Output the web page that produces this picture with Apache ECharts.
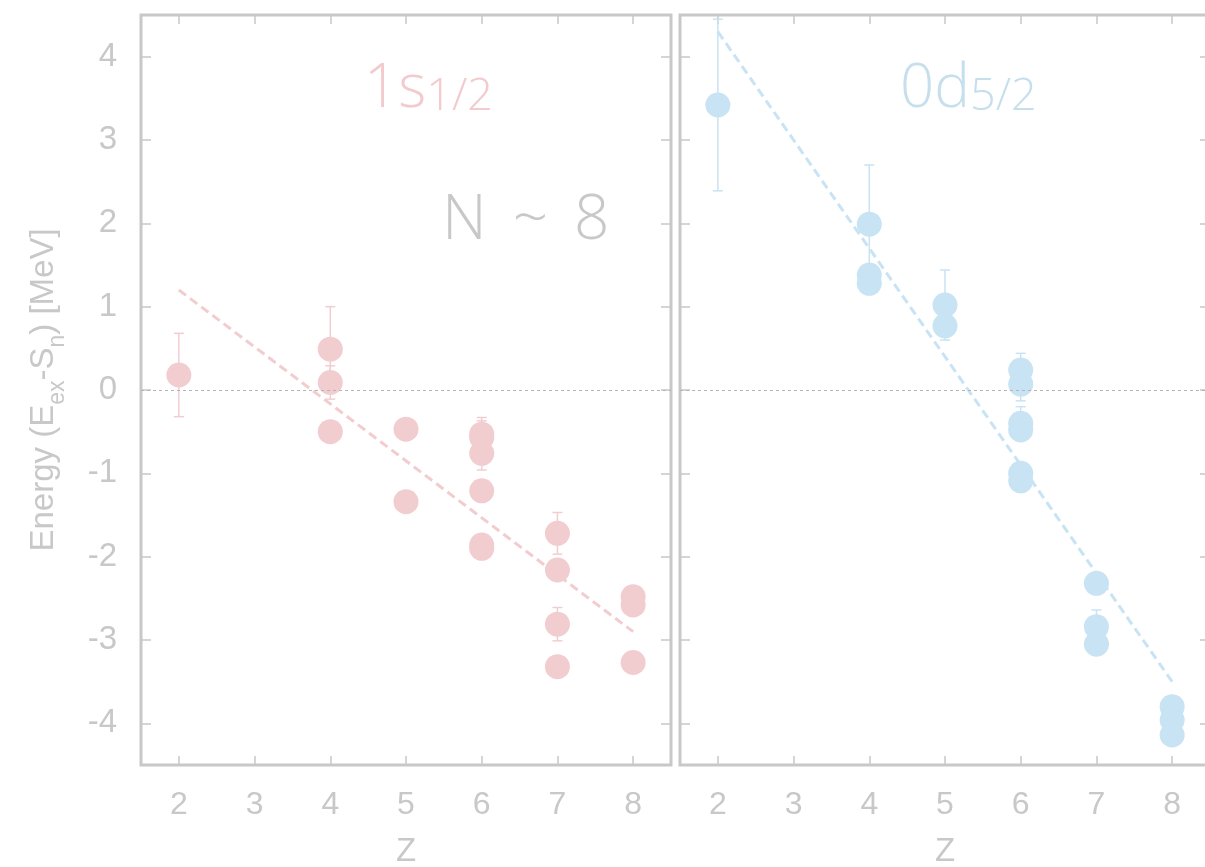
<!DOCTYPE html>
<html><head><meta charset="utf-8">
<script src="https://cdn.jsdelivr.net/npm/echarts@6/dist/echarts.min.js"></script>
<style>html,body{margin:0;padding:0;background:#fff}#c{width:1205px;height:867px}</style>
</head><body><div id="c"></div>
<script>
// ---- data ----
const zTicks = [2, 3, 4, 5, 6, 7, 8];
const eTicks = [-4, -3, -2, -1, 0, 1, 2, 3, 4];

// 1s1/2 panel
const sZ   = [2,    4,    4,    4,     5,     5,     6,     6,     6,     6,     6,     6,     7,     7,     7,     7,     8,     8,     8];
const sE   = [0.18, 0.49, 0.09, -0.50, -0.47, -1.34, -0.53, -0.57, -0.76, -1.21, -1.86, -1.90, -1.72, -2.16, -2.81, -3.32, -2.48, -2.58, -3.27];
const sErr = [0.50, 0.51, 0.20, 0,     0,     0,     0.20,  0.20,  0.20,  0,     0,     0,     0.25,  0,     0.20,  0,     0,     0,     0];
const sFit = [[2, 1.20], [8, -2.90]];

// 0d5/2 panel
const dZ   = [2,    4,    4,    4,    5,    5,    6,    6,    6,     6,     6,     6,     7,     7,     7,     8,     8,     8];
const dE   = [3.42, 1.99, 1.38, 1.28, 1.02, 0.77, 0.24, 0.07, -0.40, -0.48, -1.00, -1.09, -2.32, -2.84, -3.05, -3.80, -3.96, -4.14];
const dErr = [1.03, 0.71, 0,    0,    0.42, 0,    0.20, 0.20, 0.20,  0,     0,     0,     0,     0.20,  0,     0,     0,     0];
const dFit = [[2, 4.30], [8, -3.50]];

const titleS = ['1s', '1/2'];
const titleD = ['0d', '5/2'];
const nLabel = ['N', '~', '8'];

// ---- style ----
const GRAY = '#c8c8c8';
const PINK = '#f2cdd0';
const PINK_T = '#f3cacd';
const BLUE = '#c8e3f3';
const BLUE_T = '#c6dfed';
const FONT = 'Liberation Sans, Arial, sans-serif';
const TFONT = 'Open Sans, Lato, sans-serif';

function pts(zs, es) { return zs.map((z, i) => [z, es[i]]); }
function bars(zs, es, errs) {
  const out = [];
  zs.forEach((z, i) => { if (errs[i] > 0) out.push([z, es[i] - errs[i], es[i] + errs[i]]); });
  return out;
}
function errRender(color) {
  return function (params, api) {
    const x = api.value(0);
    const lo = api.coord([x, api.value(1)]);
    const hi = api.coord([x, api.value(2)]);
    const w = 5;
    const style = { stroke: color, lineWidth: 1.5 };
    return { type: 'group', children: [
      { type: 'line', shape: { x1: lo[0], y1: lo[1], x2: hi[0], y2: hi[1] }, style: style },
      { type: 'line', shape: { x1: lo[0] - w, y1: lo[1], x2: lo[0] + w, y2: lo[1] }, style: style },
      { type: 'line', shape: { x1: hi[0] - w, y1: hi[1], x2: hi[0] + w, y2: hi[1] }, style: style }
    ]};
  };
}

function xAx(gi, pos, withLabels) {
  const a = {
    type: 'value', gridIndex: gi, position: pos, min: 1.5, max: 8.5,
    axisLine: { show: false, onZero: false },
    axisTick: { show: true, inside: true, length: 9, customValues: zTicks, lineStyle: { color: GRAY, width: 1.5 } },
    axisLabel: { show: withLabels, customValues: zTicks, color: GRAY, fontSize: 32, fontFamily: FONT, margin: 24 },
    splitLine: { show: false }
  };
  if (withLabels) {
    a.name = 'Z'; a.nameLocation = 'middle'; a.nameGap = 70;
    a.nameTextStyle = { color: GRAY, fontSize: 33, fontFamily: FONT };
  }
  return a;
}
function yAx(gi, pos, withLabels) {
  const a = {
    type: 'value', gridIndex: gi, position: pos, min: -4.5, max: 4.5,
    axisLine: { show: false, onZero: false },
    axisTick: { show: true, inside: true, length: 10, customValues: eTicks, lineStyle: { color: GRAY, width: 1.5 } },
    axisLabel: { show: withLabels, customValues: eTicks, color: GRAY, fontSize: 33, fontFamily: FONT, margin: 24 },
    splitLine: { show: false }
  };
  if (withLabels) {
    a.name = '{a|Energy (E}{s|ex}{a|-S}{s|n}{a|) [MeV]}';
    a.nameLocation = 'middle'; a.nameGap = 72; a.nameRotate = 90;
    a.nameTextStyle = { color: GRAY, fontFamily: FONT, fontSize: 33,
      rich: {
        a: { color: GRAY, fontFamily: FONT, fontSize: 33, lineHeight: 42, verticalAlign: 'top' },
        s: { color: GRAY, fontFamily: FONT, fontSize: 23, lineHeight: 23, verticalAlign: 'bottom' }
      } };
  }
  return a;
}

function titleRich(color) {
  return {
    a: { fontFamily: TFONT, fontWeight: 300, fontSize: 60, lineHeight: 62, color: color, verticalAlign: 'bottom' },
    b: { fontFamily: TFONT, fontWeight: 300, fontSize: 45, lineHeight: 58, color: color, verticalAlign: 'bottom' }
  };
}

const option = {
  backgroundColor: '#fff',
  animation: false,
  title: [
    { text: '{a|' + titleS[0] + '}{b|' + titleS[1] + '}', left: 364, top: 58, padding: 0,
      textStyle: { rich: titleRich(PINK_T) } },
    { text: '{a|' + titleD[0] + '}{b|' + titleD[1] + '}', left: 900, top: 58, padding: 0,
      textStyle: { rich: titleRich(BLUE_T) } },
    { text: '{n|' + nLabel[0] + '}{t|' + nLabel[1] + '}{n|' + nLabel[2] + '}', left: 442, top: 190, padding: 0,
      textStyle: { rich: {
        n: { fontFamily: TFONT, fontWeight: 300, fontSize: 62, color: GRAY },
        t: { fontFamily: TFONT, fontWeight: 300, fontSize: 62, color: GRAY, padding: [0, 26, 0, 26] }
      } } }
  ],
  grid: [
    { left: 141, top: 15, width: 530, height: 750, show: true, borderColor: GRAY, borderWidth: 3,
      backgroundColor: 'transparent', outerBoundsMode: 'none', containLabel: false },
    { left: 680, top: 15, width: 530, height: 750, show: true, borderColor: GRAY, borderWidth: 3,
      backgroundColor: 'transparent', outerBoundsMode: 'none', containLabel: false }
  ],
  xAxis: [xAx(0, 'bottom', true), xAx(0, 'top', false), xAx(1, 'bottom', true), xAx(1, 'top', false)],
  yAxis: [yAx(0, 'left', true), yAx(0, 'right', false), yAx(1, 'left', false), yAx(1, 'right', false)],
  series: [
    { type: 'line', xAxisIndex: 0, yAxisIndex: 0, data: sFit, symbol: 'none', z: 1,
      lineStyle: { color: PINK, width: 3, type: [9, 5] },
      markLine: { silent: true, symbol: 'none', label: { show: false },
        lineStyle: { color: '#b4b4b4', type: [3, 3], width: 1 }, data: [{ yAxis: 0 }] } },
    { type: 'line', xAxisIndex: 2, yAxisIndex: 2, data: dFit, symbol: 'none', z: 1,
      lineStyle: { color: BLUE, width: 3, type: [9, 5] },
      markLine: { silent: true, symbol: 'none', label: { show: false },
        lineStyle: { color: '#b4b4b4', type: [3, 3], width: 1 }, data: [{ yAxis: 0 }] } },
    { type: 'custom', xAxisIndex: 0, yAxisIndex: 0, data: bars(sZ, sE, sErr), renderItem: errRender(PINK), z: 2 },
    { type: 'custom', xAxisIndex: 2, yAxisIndex: 2, data: bars(dZ, dE, dErr), renderItem: errRender(BLUE), z: 2 },
    { type: 'scatter', xAxisIndex: 0, yAxisIndex: 0, data: pts(sZ, sE), symbol: 'circle', symbolSize: 25, z: 3,
      itemStyle: { color: PINK, opacity: 1 } },
    { type: 'scatter', xAxisIndex: 2, yAxisIndex: 2, data: pts(dZ, dE), symbol: 'circle', symbolSize: 25, z: 3,
      itemStyle: { color: BLUE, opacity: 1 } }
  ]
};

const chart = echarts.init(document.getElementById('c'), null, { renderer: 'canvas' });
chart.setOption(option);
</script>
</body></html>
